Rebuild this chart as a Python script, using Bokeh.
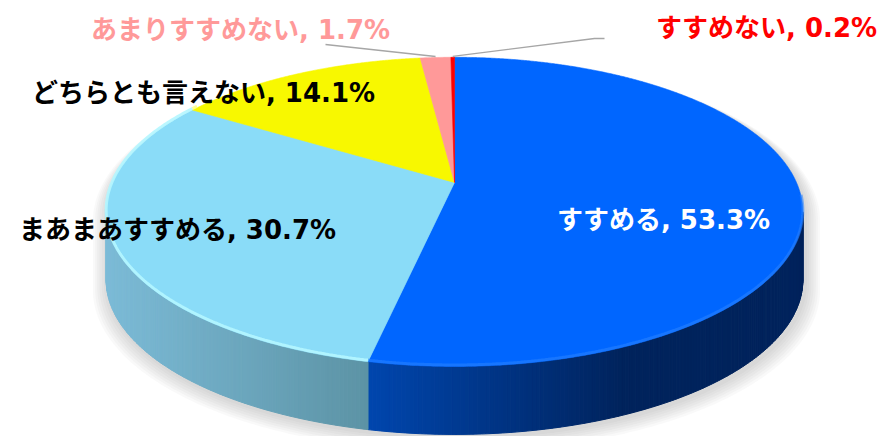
import numpy as np
from bokeh.plotting import figure
from bokeh.models import Range1d
from bokeh.core.properties import value
from bokeh.embed import file_html
from bokeh.resources import INLINE

# ---------------- data ----------------
categories = ["すすめる", "まあまあすすめる", "どちらとも言えない", "あまりすすめない", "すすめない"]
shares = [53.3, 30.7, 14.1, 1.7, 0.2]
top_colors = ["#0066FF", "#8ADCF8", "#F8F800", "#FF9999", "#FF0000"]
side_left_colors = ["#0046AE", "#7CBBD7", "#C8C800", "#CC7A7A", "#CC0000"]
side_right_colors = ["#00235C", "#5C93A5", "#9A9A00", "#A06060", "#900000"]
rim_colors = ["#2A84FF", "#B4F6FF", "#FFFF80", "#FFC0C0", "#FF6060"]
rim_alpha = [0.55, 0.9, 0.9, 0.9, 0.9]
label_colors = ["#FFFFFF", "#000000", "#000000", "#FF9999", "#FF0000"]

# ---------------- layout ----------------
W, H = 888, 436
CX, CY, A, B, K, D = 454.0, 182.0, 342.0, 149.0, 0.19, 68.0
label_pos = [(663, 219), (177, 229), (203, 92), (240, 29), (766, 27)]
FONT = "'DejaVu Sans', 'Noto Sans CJK JP'"


def proj(theta, dy=0.0, s=1.0, ox=0.0):
    theta = np.asarray(theta, dtype=float)
    X = np.sin(theta) * s
    Y = np.cos(theta) * s
    w = 1.0 + K * Y
    return CX + ox + A * X / w, CY - B * Y / w + dy


def hex2rgb(h):
    h = h.lstrip("#")
    return np.array([int(h[i:i + 2], 16) for i in (0, 2, 4)], dtype=float)


def rgb2hex(c):
    c = np.clip(np.round(c), 0, 255).astype(int)
    return "#%02x%02x%02x" % tuple(c)


p = figure(width=W, height=H, output_backend="svg", toolbar_location=None,
           x_range=Range1d(0, W), y_range=Range1d(H, 0), min_border=0)
p.axis.visible = False
p.grid.visible = False
p.outline_line_color = None
p.background_fill_color = "white"
p.border_fill_color = "white"

two_pi = 2 * np.pi
cum = np.concatenate([[0.0], np.cumsum(shares)]) / sum(shares)
t_start = cum[:-1] * two_pi
t_end = cum[1:] * two_pi

th_r = np.pi / 2 + np.arcsin(K)
th_l = 3 * np.pi / 2 - np.arcsin(K)

# ---------------- soft shadow ----------------
for i in range(7):
    s = 1.0 + 0.006 * (i + 1)
    ta = np.linspace(th_l, th_r + two_pi, 240)
    tb = np.linspace(th_r, th_l, 200)
    x1, y1 = proj(ta, 3 + i * 0.6, s, 2.0)
    x2, y2 = proj(tb, D + 3 + i * 0.8, s, 2.0)
    p.patch(np.concatenate([x1, x2]), np.concatenate([y1, y2]),
            fill_color="#808080", fill_alpha=0.05, line_color=None)

# ---------------- side walls ----------------
for i in range(len(shares)):
    a = max(t_start[i], th_r)
    b = min(t_end[i], th_l)
    if b <= a:
        continue
    n = max(2, int((b - a) / 0.01))
    ts = np.linspace(a, b, n + 1)
    xa, _ = proj(a)
    xb, _ = proj(b)
    xl, xr = min(xa, xb), max(xa, xb)
    cl = hex2rgb(side_left_colors[i])
    cr = hex2rgb(side_right_colors[i])
    xs, ys, cols = [], [], []
    for j in range(n):
        t0, t1 = ts[j], ts[j + 1]
        tx0, ty0 = proj([t0, t1])
        bx0, by0 = proj([t1, t0], D)
        xs.append(list(np.concatenate([tx0, bx0])))
        ys.append(list(np.concatenate([ty0, by0])))
        xm = proj((t0 + t1) / 2)[0]
        f = (xm - xl) / max(xr - xl, 1e-6)
        if i == 0:
            f = min(1.0, f * 1.7)
        cols.append(rgb2hex(cl + (cr - cl) * f))
    p.patches(xs, ys, fill_color=cols, line_color=cols, line_width=1)

# ---------------- top faces ----------------
wx, wy = [], []
for i in range(len(shares)):
    n = max(3, int((t_end[i] - t_start[i]) / 0.005))
    ts = np.linspace(t_start[i], t_end[i], n + 1)
    ax, ay = proj(ts)
    wx.append(list(np.concatenate([[CX], ax])))
    wy.append(list(np.concatenate([[CY], ay])))
p.patches(wx, wy, fill_color=top_colors, line_color=top_colors, line_width=0.6)

# bevel highlight along the front rim
for i in range(len(shares)):
    a = max(t_start[i], th_r - 0.1)
    b = min(t_end[i], 5.3)
    if b <= a:
        continue
    ts = np.linspace(a, b, 200)
    rx, ry = proj(ts, -1.5)
    p.line(rx, ry, line_color=rim_colors[i], line_width=3, line_alpha=rim_alpha[i])

# ---------------- leader lines ----------------
mid = (t_start + t_end) / 2
px, py = proj(mid[3])
p.line([325, float(px)], [44, float(py) - 1], line_color="#A6A6A6", line_width=1.3)
rx, ry = proj(mid[4])
p.line([float(rx), 594, 604], [float(ry) - 1, 38, 38], line_color="#A6A6A6", line_width=1.3)

# ---------------- labels ----------------
texts = ["%s, %.1f%%" % (c, v) for c, v in zip(categories, shares)]
p.text(x=[q[0] for q in label_pos], y=[q[1] for q in label_pos], text=texts,
       text_color=label_colors, text_font=value(FONT), text_font_size="26px",
       text_font_style="bold", text_align="center", text_baseline="middle")

open("out.html", "w").write(file_html(p, INLINE))
